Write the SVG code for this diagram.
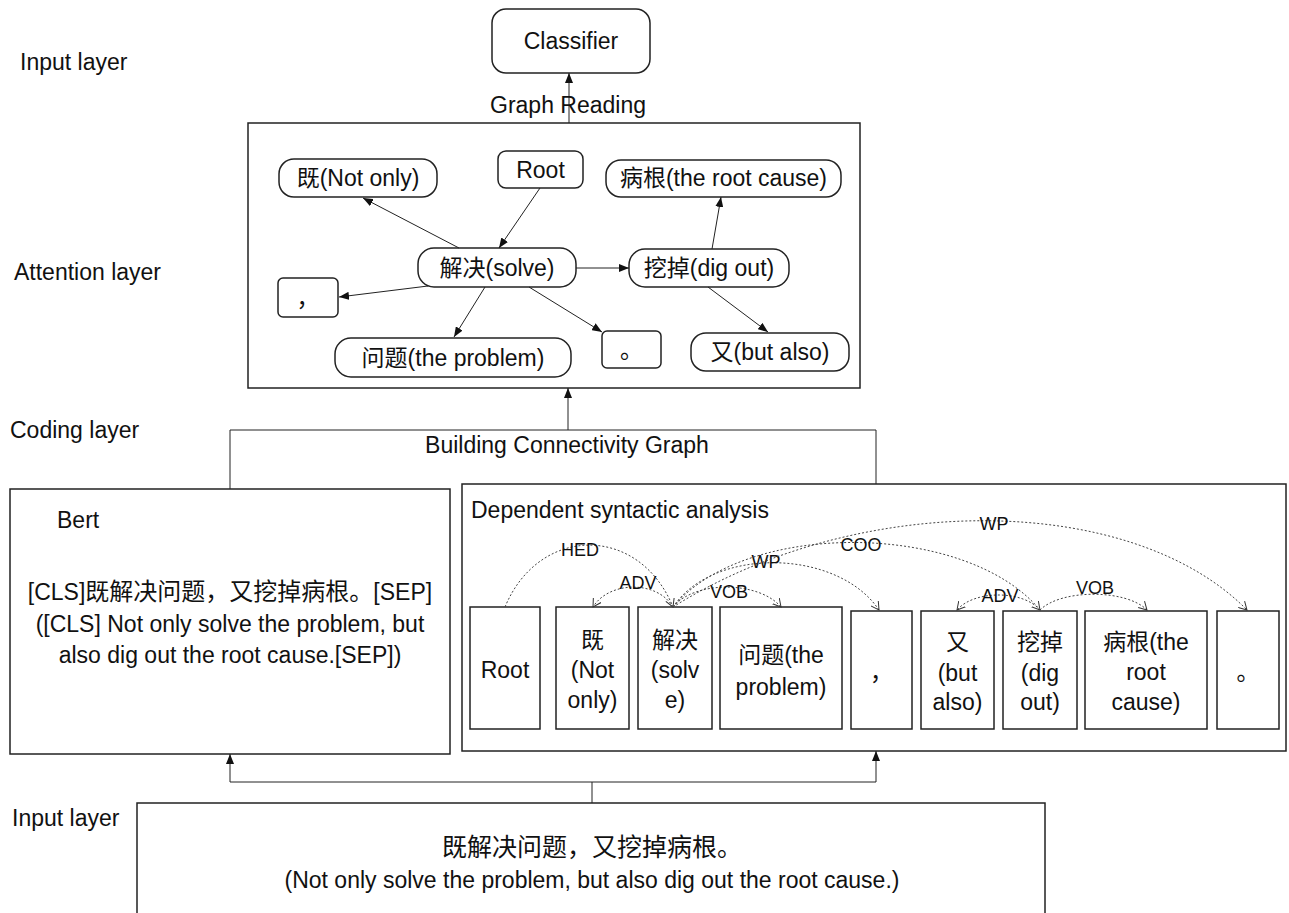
<svg xmlns="http://www.w3.org/2000/svg" width="1289" height="913" viewBox="0 0 1289 913">
<style>
text{font-family:'Liberation Sans','Noto Sans CJK SC',sans-serif;fill:#111;}
.t{font-size:23px;}
.m{text-anchor:middle;}
.lab{font-size:18px;text-anchor:middle;}
.cjk{font-size:24px;}
.box{fill:#fff;stroke:#222;stroke-width:1.5;}
.node{fill:#fff;stroke:#222;stroke-width:1.5;}
.edge{fill:none;stroke:#222;stroke-width:1;}
.dep{fill:none;stroke:#444;stroke-width:1;stroke-dasharray:2 2;}
</style>
<defs>
<marker id="ah" viewBox="0 0 10 8" refX="10" refY="4" markerWidth="10" markerHeight="8" markerUnits="userSpaceOnUse" orient="auto">
<path d="M0,0 L10,4 L0,8 z" fill="#111"/>
</marker>
<marker id="oh" viewBox="0 0 9 10" refX="8" refY="5" markerWidth="9" markerHeight="10" markerUnits="userSpaceOnUse" orient="auto">
<path d="M0,0.5 L8,5 L0,9.5" fill="none" stroke="#333" stroke-width="1"/>
</marker>
</defs>
<rect width="1289" height="913" fill="#fff"/>

<g id="layer-labels">
<text class="t" x="20" y="70">Input layer</text>
<text class="t" x="14" y="280">Attention layer</text>
<text class="t" x="10" y="438">Coding layer</text>
<text class="t" x="12" y="826">Input layer</text>
</g>

<g id="classifier">
<rect class="node" x="492" y="9" width="158" height="64" rx="14"/>
<text class="t m" x="571" y="49">Classifier</text>
</g>

<g id="graph-box">
<rect class="box" x="248" y="123" width="612" height="265"/>
</g>

<g id="n-ji">
<rect class="node" x="279" y="159" width="158" height="38" rx="15"/>
<text class="t m" x="358" y="186">既(Not only)</text>
</g>
<g id="n-root">
<rect class="node" x="498" y="151" width="85" height="37" rx="8"/>
<text class="t m" x="540.5" y="178">Root</text>
</g>
<g id="n-bing">
<rect class="node" x="606" y="160" width="235" height="37" rx="15"/>
<text class="t m" x="723.5" y="186">病根(the root cause)</text>
</g>
<g id="n-jiejue">
<rect class="node" x="418" y="248" width="158" height="39" rx="16"/>
<text class="t m" x="497" y="276">解决(solve)</text>
</g>
<g id="n-wadiao">
<rect class="node" x="629" y="249" width="160" height="38" rx="16"/>
<text class="t m" x="709" y="276">挖掉(dig out)</text>
</g>
<g id="n-comma">
<rect class="node" x="278" y="278" width="60" height="39" rx="5"/>
<text class="t m" x="308" y="306">，</text>
</g>
<g id="n-wenti">
<rect class="node" x="335" y="338" width="236" height="39" rx="16"/>
<text class="t m" x="453" y="366">问题(the problem)</text>
</g>
<g id="n-period">
<rect class="node" x="602" y="331" width="59" height="37" rx="5"/>
<text class="t m" x="631.5" y="358">。</text>
</g>
<g id="n-you">
<rect class="node" x="691" y="333" width="158" height="38" rx="15"/>
<text class="t m" x="770" y="360">又(but also)</text>
</g>

<g id="building-frame">
<path class="edge" d="M230,489 V430 H876 V485"/>
<text class="t m" x="567" y="453">Building Connectivity Graph</text>
</g>

<g id="bert">
<rect class="box" x="10" y="489" width="440" height="265"/>
<text class="t" x="57" y="528">Bert</text>
<text class="t m" x="230" y="600">[CLS]<tspan class="cjk">既解决问题，又挖掉病根。</tspan>[SEP]</text>
<text class="t m" x="230" y="632">([CLS] Not only solve the problem, but</text>
<text class="t m" x="230" y="663">also dig out the root cause.[SEP])</text>
</g>

<g id="dependency">
<rect class="box" x="462" y="484" width="824" height="267"/>
<text class="t" x="471" y="518">Dependent syntactic analysis</text>
</g>

<g id="tok-root">
<rect class="box" x="470" y="607" width="70" height="122"/>
<text class="t m" x="505" y="678">Root</text>
</g>
<g id="tok-ji">
<rect class="box" x="556" y="607" width="73" height="122"/>
<text class="t m" x="592.5" y="648">既</text>
<text class="t m" x="592.5" y="678">(Not</text>
<text class="t m" x="592.5" y="708">only)</text>
</g>
<g id="tok-jiejue">
<rect class="box" x="638" y="607" width="74" height="122"/>
<text class="t m" x="675" y="648">解决</text>
<text class="t m" x="675" y="678">(solv</text>
<text class="t m" x="675" y="708">e)</text>
</g>
<g id="tok-wenti">
<rect class="box" x="720" y="607" width="122" height="122"/>
<text class="t m" x="781" y="663">问题(the</text>
<text class="t m" x="781" y="695">problem)</text>
</g>
<g id="tok-comma">
<rect class="box" x="851" y="611" width="61" height="118"/>
<text class="t m" x="881.5" y="680">，</text>
</g>
<g id="tok-you">
<rect class="box" x="921" y="611" width="73" height="118"/>
<text class="t m" x="957.5" y="650">又</text>
<text class="t m" x="957.5" y="681">(but</text>
<text class="t m" x="957.5" y="710">also)</text>
</g>
<g id="tok-wadiao">
<rect class="box" x="1003" y="611" width="74" height="118"/>
<text class="t m" x="1040" y="650">挖掉</text>
<text class="t m" x="1040" y="681">(dig</text>
<text class="t m" x="1040" y="710">out)</text>
</g>
<g id="tok-bing">
<rect class="box" x="1085" y="611" width="122" height="118"/>
<text class="t m" x="1146" y="650">病根(the</text>
<text class="t m" x="1146" y="680">root</text>
<text class="t m" x="1146" y="710">cause)</text>
</g>
<g id="tok-period">
<rect class="box" x="1217" y="611" width="62" height="118"/>
<text class="t m" x="1248" y="680">。</text>
</g>

<g id="input">
<rect class="box" x="137" y="803" width="908" height="130"/>
<text class="t m" x="592" y="856" style="font-size:25px">既解决问题，又挖掉病根。</text>
<text class="t m" x="592" y="888">(Not only solve the problem, but also dig out the root cause.)</text>
</g>

<g id="connectors">
<line class="edge" x1="569" y1="123" x2="569" y2="73" marker-end="url(#ah)"/>
<text class="t m" x="568" y="113">Graph Reading</text>
<line class="edge" x1="568" y1="430" x2="568" y2="388" marker-end="url(#ah)"/>
<line class="edge" x1="459" y1="248" x2="363" y2="198" marker-end="url(#ah)"/>
<line class="edge" x1="540" y1="188" x2="499" y2="248" marker-end="url(#ah)"/>
<line class="edge" x1="576" y1="268" x2="629" y2="268" marker-end="url(#ah)"/>
<line class="edge" x1="712" y1="249" x2="721" y2="197" marker-end="url(#ah)"/>
<line class="edge" x1="428" y1="286" x2="339" y2="297" marker-end="url(#ah)"/>
<line class="edge" x1="485" y1="287" x2="454" y2="337" marker-end="url(#ah)"/>
<line class="edge" x1="529" y1="287" x2="602" y2="332" marker-end="url(#ah)"/>
<line class="edge" x1="708" y1="287" x2="768" y2="332" marker-end="url(#ah)"/>
<path class="edge" d="M592,803 V782"/>
<path class="edge" d="M230,782 H876"/>
<line class="edge" x1="230" y1="782" x2="230" y2="754" marker-end="url(#ah)"/>
<line class="edge" x1="876" y1="782" x2="876" y2="751" marker-end="url(#ah)"/>

<path class="dep" d="M505,607 C539,525 639,524 673,607" marker-end="url(#oh)"/>
<text class="lab" x="580" y="556">HED</text>
<path class="dep" d="M673,607 C657,580 609,581 593,607" marker-end="url(#oh)"/>
<text class="lab" x="638" y="589">ADV</text>
<path class="dep" d="M673,607 C714,546 838,549 879,610" marker-end="url(#oh)"/>
<text class="lab" x="766" y="568">WP</text>
<path class="dep" d="M673,607 C695,580 759,581 781,607" marker-end="url(#oh)"/>
<text class="lab" x="729" y="598">VOB</text>
<path class="dep" d="M673,607 C746,519 967,522 1040,610" marker-end="url(#oh)"/>
<text class="lab" x="861" y="551">COO</text>
<path class="dep" d="M673,607 C860,490 1132,493 1247,610" marker-end="url(#oh)"/>
<text class="lab" x="994" y="530">WP</text>
<path class="dep" d="M1040,610 C1023,590 974,590 957,610" marker-end="url(#oh)"/>
<text class="lab" x="1000" y="602">ADV</text>
<path class="dep" d="M1040,610 C1061,589 1126,589 1147,610" marker-end="url(#oh)"/>
<text class="lab" x="1095" y="594">VOB</text>
</g>
</svg>
